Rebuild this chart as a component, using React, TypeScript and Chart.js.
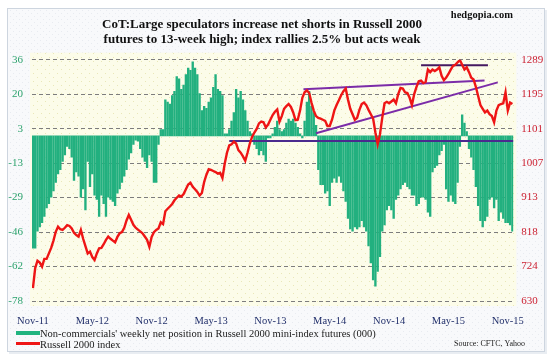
import React, { useEffect, useRef } from "react";
import { Chart, registerables } from "chart.js";

Chart.register(...registerables);

// Weekly net position of non-commercials (000 contracts), Nov-2011 .. Nov-2015
const netPositions: number[] = [
  -53, -53, -45, -43, -41, -38, -34, -32, -29, -26,
  -22, -18, -16, -12, -9, -5, -6, -10, -21, -17,
  -19, -29, -25, -35, -12, -24, -18, -28, -30, -38,
  -28, -32, -38, -29, -30, -31, -33, -27, -25, -22,
  -19, -16, -11, -8, -4, -2, -2.5, -6, -10, -12,
  -15, -9, -12, -22, -22, -4, 3, 3, 17, 16,
  15, 19, 21, 28, 27, 22, 24, 29, 32, 31,
  35, 32, 29, 20, 12, 14, 13, 16, 18, 23,
  29, 22, 21, 19, 1, 1, 3, 7, 11, 22,
  18, 21, 17, 12, 7, 2, 1, -4, -6, -9,
  -7, -9, -12, -1, -1, 1, 4, 7, 3, 2,
  3, 6, 8, 7, 8, 6, 4, 1, -1, 7,
  16, 21, 14, 11, 5, -16, -23, -23, -27, -26,
  -33, -22, -20, -22, -19, -22, -26, -31, -39, -44,
  -45, -43, -44, -43, -40, -43, -45, -52, -60, -68,
  -71, -64, -57, -45, -42, -35, -33, -35, -39, -30,
  -28, -25, -23, -22, -24, -25, -28, -28, -33, -32,
  -29, -29, -30, -36, -38, -17, -15, -14, -9, -7,
  -4, -25, -31, -28, -31, -32, -22, -5, 10, 6,
  2, -6, -10, -16, -24, -33, -40, -43, -40, -38,
  -30, -29, -34, -30, -40, -36, -39, -41, -41, -42,
  -45,
];

// Russell 2000 index, weekly
const russell2000: number[] = [
  665, 720, 740, 735, 724, 745, 745, 760, 775, 795,
  819, 833, 826, 824, 830, 837, 835, 828, 816, 810,
  806, 824, 800, 780, 760, 765, 750, 742, 760, 774,
  775, 785, 797, 806, 800, 795, 790, 805, 815, 818,
  830, 850, 865, 852, 838, 830, 825, 820, 815, 806,
  797, 778, 805, 818, 824, 828, 845, 840, 875, 882,
  888, 895, 905, 912, 918, 915, 922, 935, 948, 953,
  942, 935, 928, 918, 925, 955, 975, 990, 988, 985,
  982, 978, 980, 966, 1005, 1035, 1055, 1058, 1065, 1060,
  1042, 1035, 1025, 1013, 1035, 1060, 1078, 1090, 1100, 1115,
  1120, 1118, 1104, 1112, 1125, 1138, 1147, 1153, 1120, 1135,
  1155, 1162, 1168, 1160, 1145, 1124, 1125, 1150, 1185, 1200,
  1205, 1198, 1172, 1150, 1135, 1130, 1128, 1125, 1122, 1108,
  1108, 1125, 1150, 1165, 1178, 1192, 1203, 1210, 1180, 1155,
  1140, 1125, 1130, 1152, 1168, 1172, 1165, 1152, 1140, 1128,
  1090, 1058, 1085, 1130, 1170, 1174, 1170, 1175, 1180, 1170,
  1195, 1212, 1210, 1200, 1198, 1185, 1165, 1195, 1215, 1230,
  1232, 1225, 1228, 1262, 1255, 1262, 1258, 1262, 1268, 1245,
  1233, 1240, 1250, 1262, 1272, 1275, 1282, 1288, 1275, 1262,
  1268, 1255, 1240, 1235, 1215, 1190, 1165, 1155, 1145, 1150,
  1140, 1135, 1118, 1150, 1165, 1168, 1170, 1200, 1150, 1172,
  1168,
];

const xTickWeeks: number[] = [0, 26, 52, 78, 104, 130, 156, 182, 208];
const xTickLabels: string[] = ["Nov-11", "May-12", "Nov-12", "May-13", "Nov-13", "May-14", "Nov-14", "May-15", "Nov-15"];
const leftTickLabels: number[] = [36, 20, 3, -13, -29, -46, -62, -78];
const rightTickLabels: number[] = [1289, 1195, 1101, 1007, 913, 818, 724, 630];

// Trend lines drawn on the index (week, index level)
const horizontalSupport = [{ x: 86, y: 1067 }, { x: 210.5, y: 1067 }];
const risingSupport = [{ x: 124, y: 1088 }, { x: 203.6, y: 1227 }];
const upperTrend = [{ x: 118.5, y: 1208 }, { x: 197.8, y: 1232 }];
const topResistance = [{ x: 170, y: 1274 }, { x: 199.3, y: 1274 }];

const titleLines = [
  "CoT:Large speculators increase net shorts in Russell 2000",
  "futures to 13-week high; index rallies 2.5% but acts weak",
];
const legendBars = "Non-commercials' weekly net position in Russell 2000 mini-index futures (000)";
const legendLine = "Russell 2000 index";
const sourceText = "Source: CFTC, Yahoo";
const siteText = "hedgopia.com";

const SERIF = "'Liberation Serif', 'Times New Roman', serif";

function makePattern(bg: string, dot: string, size: number): CanvasPattern | string {
  const c = document.createElement("canvas");
  c.width = size;
  c.height = size;
  const g = c.getContext("2d");
  if (!g) return bg;
  g.fillStyle = bg;
  g.fillRect(0, 0, size, size);
  g.fillStyle = dot;
  g.fillRect(1, 1, 1, 1);
  g.fillRect(1 + size / 2, 1 + size / 2, 1, 1);
  const p = g.createPattern(c, "repeat");
  return p || bg;
}

export default function App() {
  const ref = useRef<HTMLCanvasElement>(null);

  useEffect(() => {
    document.body.style.margin = "0";
    const canvas = ref.current;
    if (!canvas) return;

    const plotFill = makePattern("#fcfce9", "#e9e7b8", 8);
    const outerFill = makePattern("#f8f9fb", "#e8ebf0", 6);

    const decor = {
      id: "decor",
      beforeDraw(chart: any) {
        const { ctx, chartArea: a, width, height } = chart;
        ctx.save();
        ctx.fillStyle = "#ffffff";
        ctx.fillRect(0, 0, width, height);
        ctx.fillStyle = "#e9edf2";
        ctx.fillRect(9, 10, 538, 344);
        ctx.fillStyle = outerFill;
        ctx.fillRect(7, 8, 538, 344);
        ctx.strokeStyle = "#cdd5df";
        ctx.lineWidth = 1;
        ctx.strokeRect(7.5, 8.5, 537, 343);
        ctx.fillStyle = plotFill;
        ctx.fillRect(a.left - 2, a.top - 7, a.right - a.left + 5, a.bottom - a.top + 12);
        ctx.restore();
      },
      afterDraw(chart: any) {
        const { ctx } = chart;
        ctx.save();
        ctx.fillStyle = "#111111";
        ctx.textAlign = "center";
        ctx.textBaseline = "alphabetic";
        ctx.font = `bold 13px ${SERIF}`;
        ctx.fillText(titleLines[0], 262, 27.5);
        ctx.fillText(titleLines[1], 262, 42.5);

        ctx.textAlign = "right";
        ctx.font = `bold 10.5px ${SERIF}`;
        ctx.fillText(siteText, 513, 18);

        // legend
        ctx.fillStyle = "#21b47f";
        ctx.fillRect(16, 331, 24, 4);
        ctx.strokeStyle = "#ee1616";
        ctx.lineWidth = 3;
        ctx.beginPath();
        ctx.moveTo(16, 343.5);
        ctx.lineTo(40, 343.5);
        ctx.stroke();
        ctx.fillStyle = "#1a1a1a";
        ctx.textAlign = "left";
        ctx.font = `10.5px ${SERIF}`;
        ctx.fillText(legendBars, 40, 336.5);
        ctx.fillText(legendLine, 40, 347.5);

        ctx.textAlign = "right";
        ctx.font = `8px ${SERIF}`;
        ctx.fillText(sourceText, 525, 346);
        ctx.restore();
      },
    };

    const chart = new Chart(canvas, {
      type: "bar",
      data: {
        datasets: [
          {
            type: "line",
            label: "Russell 2000 index",
            data: russell2000.map((v, i) => ({ x: i, y: v })),
            yAxisID: "y1",
            borderColor: "#ee1515",
            borderWidth: 2.4,
            pointRadius: 0,
            tension: 0,
            order: 0,
          },
          {
            type: "line",
            label: "support",
            data: horizontalSupport,
            yAxisID: "y1",
            borderColor: "#4a2a8e",
            borderWidth: 2,
            pointRadius: 0,
            order: 1,
          },
          {
            type: "line",
            label: "rising",
            data: risingSupport,
            yAxisID: "y1",
            borderColor: "#7b2ca8",
            borderWidth: 2,
            pointRadius: 0,
            order: 1,
          },
          {
            type: "line",
            label: "upper",
            data: upperTrend,
            yAxisID: "y1",
            borderColor: "#7b2ca8",
            borderWidth: 2,
            pointRadius: 0,
            order: 1,
          },
          {
            type: "line",
            label: "top",
            data: topResistance,
            yAxisID: "y1",
            borderColor: "#45195f",
            borderWidth: 2,
            pointRadius: 0,
            order: 1,
          },
          {
            type: "bar",
            label: legendBars,
            data: netPositions.map((v, i) => ({ x: i, y: v })),
            yAxisID: "y",
            backgroundColor: "#22b07f",
            borderWidth: 0,
            barThickness: 1.7,
            order: 2,
          },
        ],
      },
      options: {
        responsive: false,
        animation: false,
        devicePixelRatio: 1,
        layout: { padding: { top: 59.7, left: 0, right: 0, bottom: 0 } },
        plugins: {
          legend: { display: false },
          title: { display: false },
          tooltip: { enabled: false },
        },
        scales: {
          x: {
            type: "linear",
            min: -0.4,
            max: 210.4,
            offset: false,
            grid: { display: false, offset: false },
            border: { display: false },
            afterBuildTicks: (axis: any) => {
              axis.ticks = xTickWeeks.map((v) => ({ value: v }));
            },
            afterFit: (axis: any) => {
              axis.height = 60;
            },
            ticks: {
              autoSkip: false,
              maxRotation: 0,
              padding: 6,
              color: "#22306b",
              font: { family: SERIF, size: 10.5 },
              callback: (value: any) => {
                const k = xTickWeeks.indexOf(Number(value));
                return k >= 0 ? xTickLabels[k] : "";
              },
            },
          },
          y: {
            type: "linear",
            position: "left",
            min: -78,
            max: 36,
            afterBuildTicks: (axis: any) => {
              axis.ticks = leftTickLabels.map((_, k) => ({ value: -78 + (k * 114) / 7 }));
            },
            afterFit: (axis: any) => {
              axis.width = 32;
            },
            grid: { color: "#7d7d7d", lineWidth: 1, drawTicks: false },
            border: { display: false, dash: [4, 3] },
            ticks: {
              padding: 9,
              color: "#2ea36e",
              font: { family: SERIF, size: 11 },
              callback: (_v: any, idx: number) => String(leftTickLabels[leftTickLabels.length - 1 - idx]),
            },
          },
          y1: {
            type: "linear",
            position: "right",
            min: 630,
            max: 1289,
            afterBuildTicks: (axis: any) => {
              axis.ticks = rightTickLabels.map((_, k) => ({ value: 630 + (k * 659) / 7 }));
            },
            afterFit: (axis: any) => {
              axis.width = 38.7;
            },
            grid: { display: false, drawTicks: false },
            border: { display: false },
            ticks: {
              padding: 8,
              color: "#cc2233",
              font: { family: SERIF, size: 11 },
              callback: (_v: any, idx: number) => String(rightTickLabels[rightTickLabels.length - 1 - idx]),
            },
          },
        },
      },
      plugins: [decor],
    } as any);

    return () => chart.destroy();
  }, []);

  return (
    <div style={{ width: 552, height: 361 }}>
      <canvas ref={ref} width={552} height={361} style={{ display: "block" }} />
    </div>
  );
}
